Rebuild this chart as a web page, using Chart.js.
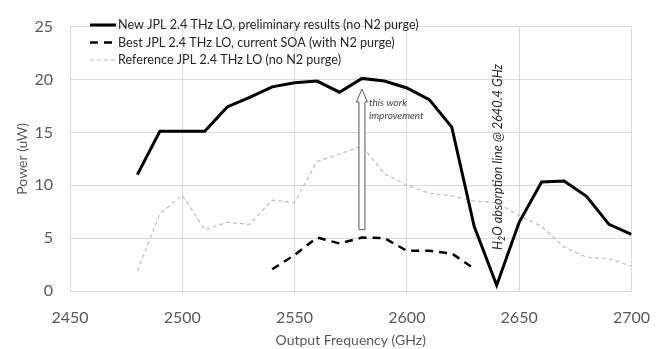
<!DOCTYPE html>
<html>
<head>
<meta charset="utf-8">
<script src="https://cdn.jsdelivr.net/npm/chart.js@4/dist/chart.umd.min.js"></script>
<style>
  html, body { margin: 0; padding: 0; background: #fff; }
  #wrap { width: 667px; height: 349px; }
</style>
</head>
<body>
<div id="wrap"><canvas id="chart" width="667" height="349"></canvas></div>
<script>
// Values
const newFreq = [2480, 2490, 2500, 2510, 2520, 2530, 2540, 2550, 2560, 2570, 2580, 2590, 2600, 2610, 2620, 2630, 2640, 2650, 2660, 2670, 2680, 2690, 2700];
const newPower = [11.0, 15.1, 15.1, 15.1, 17.4, 18.3, 19.3, 19.7, 19.85, 18.8, 20.1, 19.85, 19.2, 18.1, 15.5, 6.1, 0.55, 6.5, 10.3, 10.4, 8.95, 6.3, 5.35];

const bestFreq = [2540, 2550, 2560, 2570, 2580, 2590, 2600, 2610, 2620, 2630];
const bestPower = [2.05, 3.4, 5.05, 4.5, 5.05, 5.0, 3.8, 3.8, 3.55, 2.1];

const refFreq = [2480, 2490, 2500, 2510, 2520, 2530, 2540, 2550, 2560, 2570, 2580, 2590, 2600, 2610, 2620, 2630, 2640, 2650, 2660, 2670, 2680, 2690, 2700];
const refPower = [1.9, 7.3, 9.05, 5.8, 6.5, 6.3, 8.6, 8.35, 12.25, 12.95, 13.7, 11.1, 10.0, 9.25, 9.0, 8.5, 8.35, 7.15, 6.1, 4.15, 3.2, 3.05, 2.35];

const xTicks = [2450, 2500, 2550, 2600, 2650, 2700];
const yTicks = [0, 5, 10, 15, 20, 25];

const seriesLabels = [
  'New JPL 2.4 THz LO, preliminary results (no N2 purge)',
  'Best JPL 2.4 THz LO, current SOA (with N2 purge)',
  'Reference JPL 2.4 THz LO (no N2 purge)'
];

const arrowFreq = 2580;
const arrowFrom = 5.8;
const arrowTo = 19.1;
const absorptionFreq = 2640.4;

const FONT = 'Lato, "Open Sans", sans-serif';
const GREY = '#595959';

function toPoints(xs, ys) {
  return xs.map((x, i) => ({ x, y: ys[i] }));
}

// legend drawn inside the plot, top-left
const insideLegend = {
  id: 'insideLegend',
  afterDatasetsDraw(chart) {
    const { ctx, chartArea } = chart;
    const x0 = chartArea.left + 20;
    const rowY = [25, 42.5, 60];
    ctx.save();
    ctx.font = '13px ' + FONT;
    ctx.fillStyle = '#262626';
    ctx.textBaseline = 'middle';
    chart.data.datasets.forEach((ds, i) => {
      ctx.beginPath();
      ctx.strokeStyle = ds.borderColor;
      ctx.lineWidth = ds.borderWidth;
      ctx.setLineDash(ds.borderDash || []);
      ctx.moveTo(x0, rowY[i]);
      ctx.lineTo(x0 + 26, rowY[i]);
      ctx.stroke();
      ctx.setLineDash([]);
      ctx.save();
      ctx.translate(x0 + 28, rowY[i]);
      ctx.scale(0.97, 1);
      ctx.fillText(ds.label, 0, 0);
      ctx.restore();
    });
    ctx.restore();
  }
};

// hollow arrow + notes
const annotations = {
  id: 'annotations',
  afterDatasetsDraw(chart) {
    const { ctx } = chart;
    const xs = chart.scales.x, ys = chart.scales.y;
    const ax = xs.getPixelForValue(arrowFreq);
    const yb = ys.getPixelForValue(arrowFrom);
    const yt = ys.getPixelForValue(arrowTo);
    const sw = 3, hw = 5.5, hh = 13;

    ctx.save();
    ctx.beginPath();
    ctx.moveTo(ax - sw, yb);
    ctx.lineTo(ax - sw, yt + hh);
    ctx.lineTo(ax - hw, yt + hh);
    ctx.lineTo(ax, yt);
    ctx.lineTo(ax + hw, yt + hh);
    ctx.lineTo(ax + sw, yt + hh);
    ctx.lineTo(ax + sw, yb);
    ctx.closePath();
    ctx.fillStyle = '#fff';
    ctx.fill();
    ctx.strokeStyle = '#595959';
    ctx.lineWidth = 1;
    ctx.stroke();

    ctx.fillStyle = '#404040';
    ctx.font = 'italic 10px ' + FONT;
    ctx.textBaseline = 'alphabetic';
    ctx.fillText('this work', ax + 7, 106);
    ctx.fillText('improvement', ax + 7, 119);

    // vertical label for the water line
    const lx = xs.getPixelForValue(absorptionFreq) + 0.5;
    ctx.translate(lx, 250);
    ctx.rotate(-Math.PI / 2);
    ctx.scale(0.98, 1);
    ctx.fillStyle = '#262626';
    ctx.textBaseline = 'middle';
    let cx = 0;
    const big = 'italic 13px ' + FONT, small = 'italic 9px ' + FONT;
    ctx.font = big;
    ctx.fillText('H', cx, 0);
    cx += ctx.measureText('H').width;
    ctx.font = small;
    ctx.fillText('2', cx, 4);
    cx += ctx.measureText('2').width;
    ctx.font = big;
    ctx.fillText('O absorption line @ 2640.4 GHz', cx, 0);
    ctx.restore();
  }
};

new Chart(document.getElementById('chart'), {
  type: 'line',
  data: {
    datasets: [
      {
        label: seriesLabels[0],
        data: toPoints(newFreq, newPower),
        borderColor: '#000',
        borderWidth: 3,
        pointRadius: 0,
        tension: 0
      },
      {
        label: seriesLabels[1],
        data: toPoints(bestFreq, bestPower),
        borderColor: '#000',
        borderWidth: 2.5,
        borderDash: [8, 6],
        pointRadius: 0,
        tension: 0
      },
      {
        label: seriesLabels[2],
        data: toPoints(refFreq, refPower),
        borderColor: '#bfbfbf',
        borderWidth: 1.2,
        borderDash: [4, 3],
        pointRadius: 0,
        tension: 0
      }
    ]
  },
  options: {
    responsive: false,
    animation: false,
    layout: { padding: { top: 14, right: 34, left: 0, bottom: 0 } },
    plugins: {
      legend: { display: false },
      tooltip: { enabled: false }
    },
    scales: {
      x: {
        type: 'linear',
        min: xTicks[0],
        max: xTicks[xTicks.length - 1],
        afterBuildTicks: (s) => { s.ticks = xTicks.map(v => ({ value: v })); },
        afterFit: (s) => { s.height = 58; },
        grid: { color: '#d9d9d9', drawTicks: false },
        border: { display: false },
        ticks: { color: GREY, font: { family: FONT, size: 16 }, padding: 17, callback: (v) => String(v) },
        title: {
          display: true,
          text: 'Output Frequency (GHz)',
          color: GREY,
          font: { family: FONT, size: 14 },
          padding: { top: 2, bottom: 0 }
        }
      },
      y: {
        min: yTicks[0],
        max: yTicks[yTicks.length - 1],
        afterBuildTicks: (s) => { s.ticks = yTicks.map(v => ({ value: v })); },
        afterFit: (s) => { s.width = 70; },
        grid: { color: '#d9d9d9', drawTicks: false },
        border: { display: false },
        ticks: { color: GREY, font: { family: FONT, size: 16 }, padding: 17, callback: (v) => String(v) },
        title: {
          display: true,
          text: 'Power (uW)',
          color: GREY,
          font: { family: FONT, size: 14 },
          padding: { top: 14, bottom: 0 }
        }
      }
    }
  },
  plugins: [insideLegend, annotations]
});
</script>
</body>
</html>
